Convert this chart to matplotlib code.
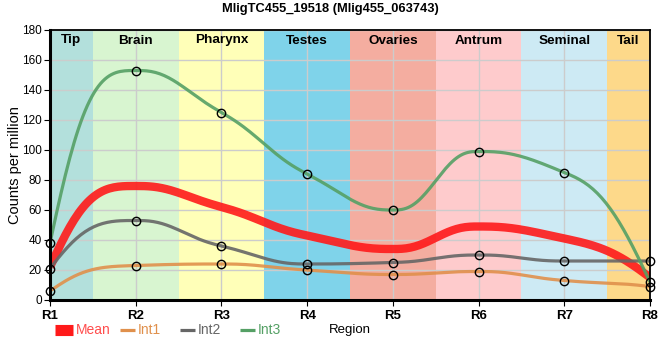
import numpy as np
import matplotlib
matplotlib.use('Agg')
import matplotlib.pyplot as plt
from matplotlib.lines import Line2D

plt.rcParams['font.family'] = ['Liberation Sans', 'DejaVu Sans']

# 데이터
regions = ['R1', 'R2', 'R3', 'R4', 'R5', 'R6', 'R7', 'R8']
mean = [22, 76, 62, 43, 34, 49, 41, 15]
int1 = [6, 23, 24, 20, 17, 19, 13, 9]
int2 = [21, 53, 36, 24, 25, 30, 26, 26]
int3 = [38, 153, 125, 84, 60, 99, 85, 12]

tissues = ['Tip', 'Brain', 'Pharynx', 'Testes', 'Ovaries', 'Antrum', 'Seminal', 'Tail']
tissue_colors = ['#b3e0dc', '#d8f5d0', '#ffffb8', '#7fd3ea', '#f4ada0',
                 '#fecbcc', '#cdeaf4', '#fdd98a']


def smooth_curve(y, n=40):
    # 부드러운 곡선 (monotone 기울기 + 5차 hermite)
    y = np.asarray(y, float)
    d = np.diff(y)
    m = np.zeros(len(y))
    for i in range(1, len(y) - 1):
        if d[i - 1] * d[i] > 0:
            m[i] = 2 / (1 / d[i - 1] + 1 / d[i])
    m[0] = 2.3 * d[0]
    m[-1] = 1.65 * d[-1]
    xs, ys = [], []
    t = np.linspace(0, 1, n)
    h00 = 1 - 10 * t**3 + 15 * t**4 - 6 * t**5
    h01 = 1 - h00
    h10 = t - 6 * t**3 + 8 * t**4 - 3 * t**5
    h11 = -4 * t**3 + 7 * t**4 - 3 * t**5
    for i in range(len(y) - 1):
        xs.append(i + t)
        ys.append(h00 * y[i] + h10 * m[i] + h01 * y[i + 1] + h11 * m[i + 1])
    return np.concatenate(xs), np.concatenate(ys)


fig = plt.figure(figsize=(6.6, 3.6), dpi=100)
ax = fig.add_axes([50 / 660, 60 / 360, 600 / 660, 270 / 360])

# 배경 구간
n = len(regions)
for i, (name, col) in enumerate(zip(tissues, tissue_colors)):
    left = max(i - 0.5, 0)
    right = min(i + 0.5, n - 1)
    ax.axvspan(left, right, color=col, lw=0, zorder=0)
    ax.text((left + right) / 2, 173, name, ha='center', va='center',
            fontsize=9.7, fontweight='bold', zorder=5)

ax.set_xlim(0, n - 1)
ax.set_ylim(0, 180)
ax.set_yticks(range(0, 181, 20))
ax.set_xticks(range(n))
ax.set_xticklabels(regions, fontweight='bold', fontsize=9.5)
ax.tick_params(axis='y', labelsize=8.5, length=4, pad=2)
ax.tick_params(axis='x', length=4, pad=3)
ax.grid(True, color='#cccccc', lw=1, zorder=1)
for s in ax.spines.values():
    s.set_linewidth(1.3)
    s.set_zorder(6)
ax.spines['left'].set_linewidth(2.2)
ax.spines['bottom'].set_linewidth(2.2)

mean_col = '#ff1a1a'
series = [('Int1', int1, '#e0904c'), ('Int2', int2, '#666666'),
          ('Int3', int3, '#55a065')]

xs, ys = smooth_curve(mean)
ax.plot(xs, ys, color=mean_col, lw=6, alpha=0.9, zorder=3, solid_capstyle='butt')
for name, vals, col in series:
    xs, ys = smooth_curve(vals)
    ax.plot(xs, ys, color=col, lw=2.3, alpha=0.9, zorder=3)
    ax.plot(range(n), vals, 'o', mfc='none', mec='black', mew=1, ms=6, zorder=4,
            clip_on=False)

ax.set_ylabel('Counts per million', fontsize=10.5)
ax.yaxis.set_label_coords(-28 / 600, 0.5)
fig.text(0.5, 1 - 9 / 360, 'MligTC455_19518 (Mlig455_063743)', ha='center',
         va='center', fontsize=9.3, fontweight='bold')

# 범례 (수동 배치)
ly = 30 / 360
legend_items = [('Mean', mean_col, '#ff4d4d', 55, 73, 8),
                ('Int1', '#e0904c', '#e0904c', 120, 135, 2.3),
                ('Int2', '#666666', '#666666', 180, 195, 2.3),
                ('Int3', '#55a065', '#55a065', 240, 255, 2.3)]
for label, lc, tc, x0, x1, lw in legend_items:
    fig.add_artist(Line2D([x0 / 660, x1 / 660], [ly, ly], color=lc, lw=lw,
                          solid_capstyle='butt', transform=fig.transFigure))
    fig.text((x1 + 3) / 660, ly, label, color=tc, fontsize=10, va='center')
fig.text(350 / 660, ly, 'Region', ha='center', va='center', fontsize=9.5)

plt.savefig('out.png', dpi=100)
